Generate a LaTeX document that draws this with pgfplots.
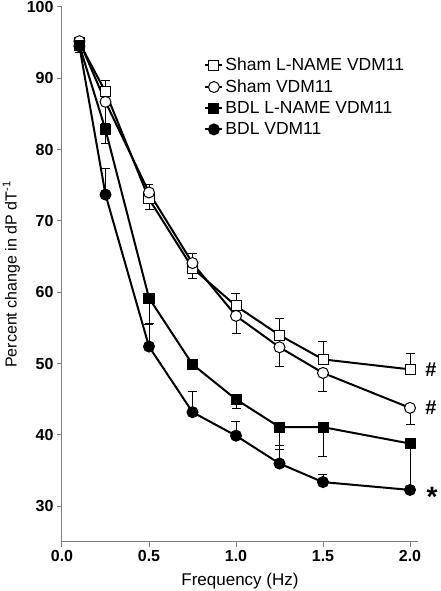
\documentclass[border=0pt]{standalone}
\usepackage{fontspec}
\setmainfont{Liberation Sans}
\usepackage{pgfplots}
\usepackage{pgfplotstable}
\pgfplotsset{compat=1.18}

\pgfplotstableread{
x y ep em
0.1 95.0 0 0
0.25 88.1 1.6 0
0.5 73.1 0 1.5
0.75 63.4 0 1.5
1.0 58.1 1.7 0
1.25 54.0 2.3 0
1.5 50.6 2.5 0
2.0 49.2 2.3 0
}\shamL
\pgfplotstableread{
x y ep em
0.1 95.2 0 0
0.25 86.7 0 3.0
0.5 74.0 1.1 0
0.75 64.1 1.4 0
1.0 56.7 0 2.5
1.25 52.3 0 2.7
1.5 48.7 0 2.6
2.0 43.8 0 2.3
}\shamV
\pgfplotstableread{
x y ep em
0.1 94.6 0 0
0.25 82.8 0 1.9
0.5 59.2 0 3.5
0.75 49.9 0 0
1.0 45.0 0 1.3
1.25 41.1 0 3.1
1.5 41.1 0 4.1
2.0 38.8 0 6.0
}\bdlL
\pgfplotstableread{
x y ep em
0.1 94.5 0 0.9
0.25 73.7 3.6 0
0.5 52.4 3.1 0
0.75 43.2 2.9 0
1.0 39.9 2.0 0
1.25 36.0 2.6 0
1.5 33.4 1.1 0
2.0 32.3 0.5 0
}\bdlV

\begin{document}
\begin{tikzpicture}
\begin{axis}[
  scale only axis, width=356pt, height=535pt,
  at={(0pt,0pt)}, anchor=south west,
  xmin=0, xmax=2.046, ymin=25, ymax=100,
  axis x line*=bottom, axis y line*=left,
  axis line style={gray, line width=1pt, -},
  tick style={gray, line width=1pt},
  major tick length=5pt,
  tick align=outside,
  xtick={0,0.5,1,1.5,2},
  ytick={30,40,50,60,70,80,90,100},
  xticklabel style={/pgf/number format/.cd, fixed, fixed zerofill, precision=1},
  /pgf/number format/assume math mode=true,
  ticklabel style={font=\bfseries\fontsize{16}{19}\selectfont, black},
  xlabel={\fontsize{17}{20}\selectfont Frequency (Hz)},
  xlabel style={yshift=-4pt},
  ylabel={\fontsize{16}{19}\selectfont Percent change in dP dT\textsuperscript{-1}},
  clip=false,
  legend style={at={(axis cs:0.80,93.4)}, anchor=north west, draw=none, fill=none,
    font=\fontsize{17.5}{20}\selectfont, row sep=3.5pt, cells={anchor=west}},
  legend cell align=left,
  every axis plot/.append style={black, line width=2pt,
    error bars/error bar style={line width=0.9pt, black},
    error bars/error mark options={line width=0.9pt, black, mark size=4.5pt, rotate=90}},
]
\addplot[mark=square*, mark size=5pt, mark options={fill=white, line width=1pt},
  error bars/.cd, y dir=both, y explicit]
  table[x=x, y=y, y error plus=ep, y error minus=em]{\shamL};
\addlegendentry{Sham L-NAME VDM11}
\addplot[mark=*, mark size=5.5pt, mark options={fill=white, line width=1pt},
  error bars/.cd, y dir=both, y explicit]
  table[x=x, y=y, y error plus=ep, y error minus=em]{\shamV};
\addlegendentry{Sham VDM11}
\addplot[mark=square*, mark size=5pt, mark options={fill=black, line width=1pt},
  error bars/.cd, y dir=both, y explicit]
  table[x=x, y=y, y error plus=ep, y error minus=em]{\bdlL};
\addlegendentry{BDL L-NAME VDM11}
\addplot[mark=*, mark size=5.5pt, mark options={fill=black, line width=1pt},
  error bars/.cd, y dir=both, y explicit]
  table[x=x, y=y, y error plus=ep, y error minus=em]{\bdlV};
\addlegendentry{BDL VDM11}
\node[font=\bfseries\fontsize{20}{22}\selectfont] at (axis cs:2.0,49.2) [xshift=21pt] {\#};
\node[font=\bfseries\fontsize{20}{22}\selectfont] at (axis cs:2.0,43.8) [xshift=21pt] {\#};
\node[font=\bfseries\fontsize{28}{30}\selectfont] at (axis cs:2.0,32.3) [xshift=22pt, yshift=-7pt] {*};
\end{axis}
\pgfresetboundingbox
\path (-62pt,-49pt) rectangle (378pt,542pt);
\end{tikzpicture}
\end{document}
